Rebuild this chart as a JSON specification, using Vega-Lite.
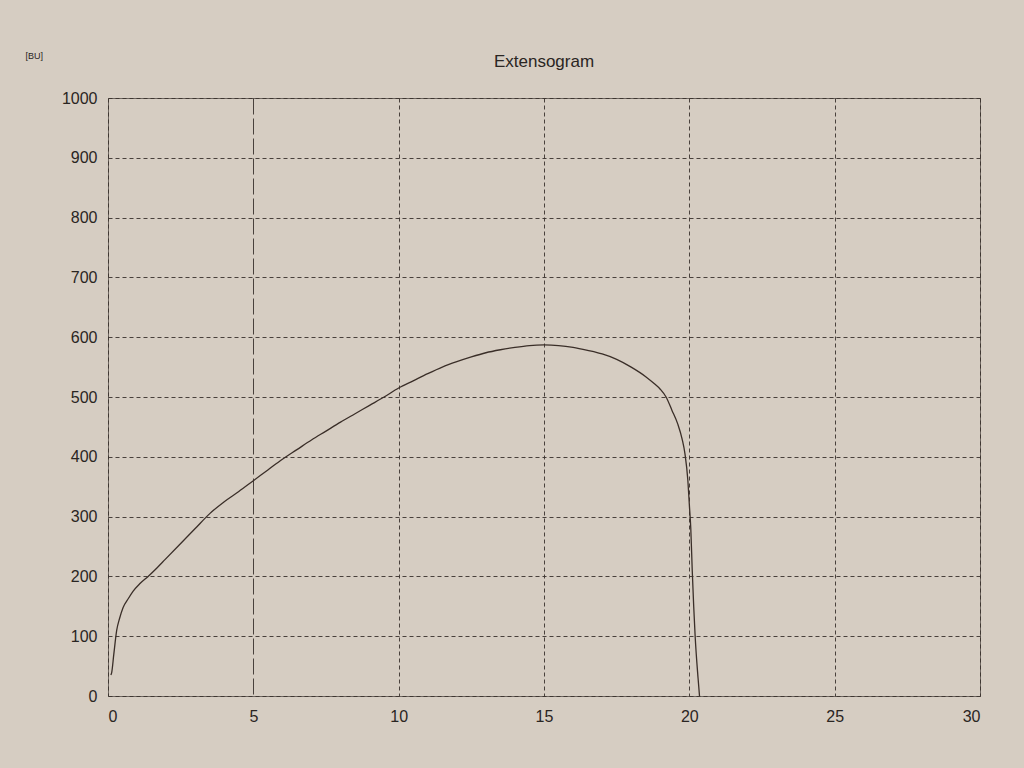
{
  "$schema": "https://vega.github.io/schema/vega-lite/v6.json",
  "width": 872,
  "height": 598,
  "autosize": {"type": "none"},
  "padding": {"left": 108, "top": 98, "right": 44, "bottom": 72},
  "background": "#d6cdc2",
  "title": {"text": "Extensogram", "fontSize": 17, "font": "Liberation Sans", "fontWeight": "normal", "color": "#2a2522", "offset": 28, "dy": 48},
  "config": {
    "view": {"stroke": "#6e6660", "strokeWidth": 1},
    "axis": {"labelFont": "Liberation Sans", "labelFontSize": 16, "labelColor": "#2a2522", "ticks": false, "domain": false, "gridColor": "#3a322d", "gridDash": [4, 3], "gridWidth": 1, "gridOpacity": 0.9}
  },
  "data": {"values": [
    {"x": 0.1, "y": 35}, {"x": 0.13, "y": 40}, {"x": 0.2, "y": 70}, {"x": 0.3, "y": 110},
    {"x": 0.4, "y": 130}, {"x": 0.52, "y": 148}, {"x": 0.7, "y": 163}, {"x": 0.86, "y": 175},
    {"x": 1.1, "y": 188}, {"x": 1.38, "y": 200}, {"x": 1.7, "y": 215}, {"x": 1.96, "y": 228},
    {"x": 2.5, "y": 255}, {"x": 3.0, "y": 280}, {"x": 3.5, "y": 305}, {"x": 4.0, "y": 325},
    {"x": 4.5, "y": 342}, {"x": 5.0, "y": 360}, {"x": 5.5, "y": 378}, {"x": 6.0, "y": 396},
    {"x": 6.5, "y": 412}, {"x": 7.0, "y": 428}, {"x": 7.5, "y": 443}, {"x": 8.0, "y": 458},
    {"x": 8.5, "y": 472}, {"x": 9.0, "y": 486}, {"x": 9.5, "y": 500}, {"x": 10.0, "y": 515},
    {"x": 10.5, "y": 527}, {"x": 11.0, "y": 539}, {"x": 11.5, "y": 550}, {"x": 12.0, "y": 559},
    {"x": 12.5, "y": 567}, {"x": 13.0, "y": 574}, {"x": 13.5, "y": 579}, {"x": 14.0, "y": 583},
    {"x": 14.5, "y": 586}, {"x": 15.0, "y": 587}, {"x": 15.5, "y": 586}, {"x": 16.0, "y": 583},
    {"x": 16.5, "y": 578}, {"x": 17.0, "y": 572}, {"x": 17.5, "y": 563}, {"x": 18.0, "y": 550},
    {"x": 18.5, "y": 534}, {"x": 18.8, "y": 522}, {"x": 19.0, "y": 513}, {"x": 19.2, "y": 500},
    {"x": 19.4, "y": 478}, {"x": 19.6, "y": 455}, {"x": 19.75, "y": 430}, {"x": 19.85, "y": 405},
    {"x": 19.95, "y": 360}, {"x": 20.0, "y": 320}, {"x": 20.05, "y": 280}, {"x": 20.1, "y": 210},
    {"x": 20.15, "y": 150}, {"x": 20.2, "y": 100}, {"x": 20.3, "y": 30}, {"x": 20.35, "y": 0}
  ]},
  "mark": {"type": "line", "color": "#3a2e28", "strokeWidth": 1.3, "interpolate": "monotone"},
  "encoding": {
    "x": {"field": "x", "type": "quantitative", "scale": {"domain": [0, 30], "nice": false},
      "axis": {"values": [0, 5, 10, 15, 20, 25, 30], "title": null, "labelPadding": 12, "format": "d",
        "gridDash": {"condition": {"test": "datum.value === 5", "value": [16, 4]}, "value": [4, 3]}}},
    "y": {"field": "y", "type": "quantitative", "scale": {"domain": [0, 1000], "nice": false},
      "axis": {"values": [0, 100, 200, 300, 400, 500, 600, 700, 800, 900, 1000], "labelPadding": 11, "format": "d",
        "title": "[BU]", "titleAngle": 0, "titleX": -83, "titleY": -38, "titleFontSize": 9, "titleFont": "Liberation Sans", "titleFontWeight": "normal", "titleColor": "#2a2522", "titleAlign": "left", "titleBaseline": "bottom"}}
  }
}
